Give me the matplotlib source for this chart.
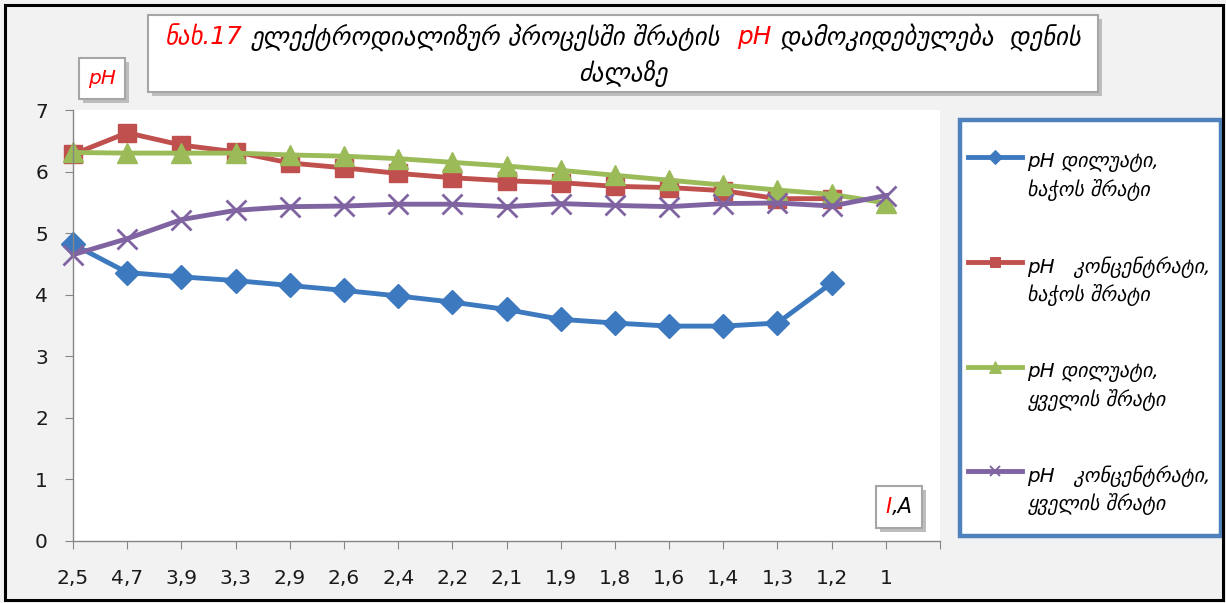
import numpy as np
import matplotlib
matplotlib.use("Agg")
import matplotlib.pyplot as plt
from matplotlib.patches import Rectangle
from matplotlib.lines import Line2D

# ---------------- data ----------------
categories = ['2,5', '4,7', '3,9', '3,3', '2,9', '2,6', '2,4', '2,2',
              '2,1', '1,9', '1,8', '1,6', '1,4', '1,3', '1,2', '1']
ph_dil_curd = [4.82, 4.36, 4.29, 4.23, 4.15, 4.07, 3.98, 3.88,
               3.76, 3.60, 3.54, 3.49, 3.49, 3.54, 4.19, np.nan]
ph_conc_curd = [6.28, 6.63, 6.43, 6.32, 6.14, 6.06, 5.97, 5.90,
                5.85, 5.82, 5.76, 5.74, 5.69, 5.56, 5.56, np.nan]
ph_dil_cheese = [6.31, 6.30, 6.30, 6.30, 6.27, 6.25, 6.21, 6.15,
                 6.09, 6.02, 5.94, 5.86, 5.78, 5.70, 5.63, 5.49]
ph_conc_cheese = [4.65, 4.91, 5.22, 5.37, 5.43, 5.44, 5.47, 5.47,
                  5.43, 5.48, 5.45, 5.43, 5.48, 5.49, 5.44, 5.61]
series_labels = ['pH დილუატი,\nხაჭოს შრატი',
                 'pH   კონცენტრატი,\nხაჭოს შრატი',
                 'pH დილუატი,\nყველის შრატი',
                 'pH   კონცენტრატი,\nყველის შრატი']
y_ticks = [0, 1, 2, 3, 4, 5, 6, 7]

W, H = 1226, 603
fig = plt.figure(figsize=(W / 100, H / 100), dpi=100)
fig.patch.set_facecolor('#f2f2f2')
FONT = ['DejaVu Sans']


def fx(x):
    return x / W


def fy(y):
    return 1 - y / H


def box(x0, y0, x1, y1, edge='#a6a6a6', lw=1.5, shadow=True, z=5):
    if shadow:
        fig.add_artist(Rectangle((fx(x0 + 4), fy(y1 + 4)), (x1 - x0) / W, (y1 - y0) / H,
                                 transform=fig.transFigure, facecolor='#bdbdbd',
                                 edgecolor='none', zorder=z))
    fig.add_artist(Rectangle((fx(x0), fy(y1)), (x1 - x0) / W, (y1 - y0) / H,
                             transform=fig.transFigure, facecolor='white',
                             edgecolor=edge, lw=lw, zorder=z + 0.1))


# outer frame
fig.add_artist(Rectangle((fx(5), fy(600)), (1223 - 5) / W, (600 - 5) / H,
                         transform=fig.transFigure, facecolor='none',
                         edgecolor='black', lw=2.2, zorder=10))

# ---------------- axes ----------------
ax = fig.add_axes([fx(73), fy(541), (940 - 73) / W, (541 - 110) / H])
ax.set_facecolor('white')
x = np.arange(len(categories))

styles = [
    dict(color='#3d79bf', marker='D', ms=12.5),
    dict(color='#c0504d', marker='s', ms=12.5),
    dict(color='#9bbb59', marker='^', ms=15),
    dict(color='#8064a2', marker='x', ms=14, mew=2),
]
data = [ph_dil_curd, ph_conc_curd, ph_dil_cheese, ph_conc_cheese]
for vals, st in zip(data, styles):
    ax.plot(x, vals, lw=3.5, clip_on=False, **st)

ax.set_xlim(0, len(categories))
ax.set_ylim(0, 7)
ax.set_xticks(np.arange(len(categories) + 1))
ax.set_xticklabels(categories + [''], fontsize=14.5, family=FONT)
ax.set_yticks(y_ticks)
ax.set_yticklabels([str(v) for v in y_ticks], fontsize=14.5, family=FONT)
for s in ['top', 'right']:
    ax.spines[s].set_visible(False)
for s in ['left', 'bottom']:
    ax.spines[s].set_color('#868686')
    ax.spines[s].set_linewidth(1)
ax.tick_params(axis='x', length=6, color='#868686', pad=14, labelcolor='#1a1a1a')
ax.tick_params(axis='y', length=6, color='#868686', pad=12, labelcolor='#1a1a1a')

# ---------------- boxes ----------------
box(148, 15, 1098, 92)
box(79, 58, 125, 99)
box(876, 486, 922, 528)
fig.text(fx(102), fy(79), 'pH', color='red', fontsize=14.5, style='italic',
         family=FONT, ha='center', va='center', zorder=7)

fig.canvas.draw()
r = fig.canvas.get_renderer()


def rich_line(pieces, xc, y, size):
    texts = []
    for s, c, gap in pieces:
        t = fig.text(0, fy(y), s, color=c, fontsize=size, style='italic',
                     family=FONT, ha='left', va='center', zorder=7)
        texts.append((t, gap))
    widths = [t.get_window_extent(r).width for t, _ in texts]
    total = sum(widths) + sum(g for _, g in texts[:-1])
    xx = xc - total / 2
    for (t, g), w in zip(texts, widths):
        t.set_x(fx(xx))
        xx += w + g


title_size = 17.8
rich_line([('ნახ.17', 'red', 8),
           ('ელექტროდიალიზურ პროცესში შრატის', 'black', 17),
           ('pH', 'red', 9),
           ('დამოკიდებულება  დენის', 'black', 0)], 623, 37, title_size)
rich_line([('ძალაზე', 'black', 0)], 623, 73, title_size)
rich_line([('I', 'red', 1), (',A', 'black', 0)], 899, 507, 15)

# ---------------- legend ----------------
fig.add_artist(Rectangle((fx(960), fy(536)), (1221 - 960) / W, (536 - 120) / H,
                         transform=fig.transFigure, facecolor='white',
                         edgecolor='#4f81bd', lw=3.2, zorder=5))
handle_y = [157, 262, 367, 471]
for lab, st, hy in zip(series_labels, styles, handle_y):
    fig.add_artist(Line2D([fx(968), fx(1022)], [fy(hy), fy(hy)],
                          transform=fig.transFigure, color=st['color'], lw=3.5,
                          zorder=6))
    fig.add_artist(Line2D([fx(995)], [fy(hy)], transform=fig.transFigure,
                          color=st['color'], marker=st['marker'],
                          ms=st['ms'] * 0.55, mew=st.get('mew', 1) * 0.7,
                          zorder=6.1))
    l1, l2 = lab.split('\n')
    fig.text(fx(1027), fy(hy + 5), l1, fontsize=14.3, style='italic', family=FONT,
             ha='left', va='center', zorder=7)
    fig.text(fx(1027), fy(hy + 33), l2, fontsize=14.3, style='italic', family=FONT,
             ha='left', va='center', zorder=7)

fig.savefig('out.png', dpi=100, facecolor=fig.get_facecolor())
